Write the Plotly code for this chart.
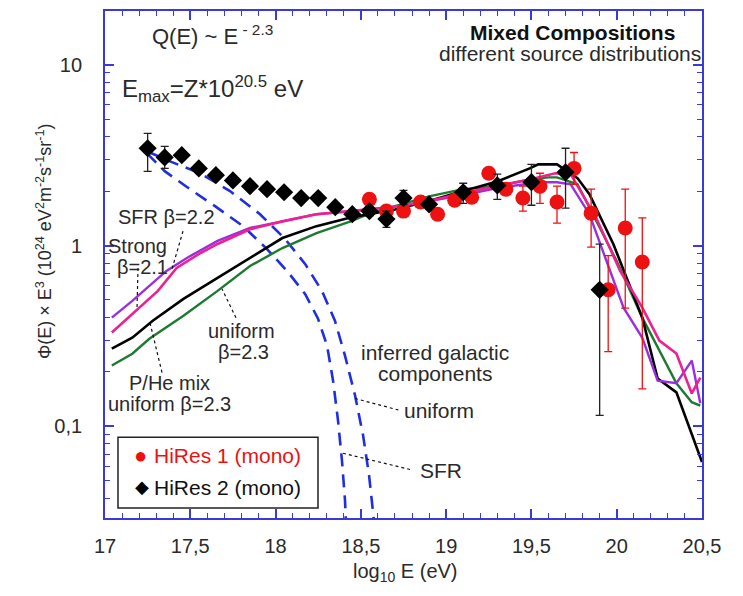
import plotly.graph_objects as go

# ---------------- data ----------------
# HiRes 1 (mono) - red circles
hr1_x = [18.55, 18.65, 18.75, 18.85, 18.95, 19.05, 19.15, 19.25, 19.35, 19.45, 19.55, 19.65, 19.75, 19.85, 19.95, 20.05, 20.15]
hr1_y = [1.80, 1.55, 1.55, 1.74, 1.49, 1.78, 1.85, 2.51, 2.05, 1.83, 2.13, 1.74, 2.67, 1.51, 0.569, 1.25, 0.811]
hr1_ep = [0.04, 0.04, 0.05, 0.05, 0.05, 0.06, 0.07, 0.09, 0.10, 0.30, 0.38, 0.39, 0.60, 0.54, 0.31, 0.80, 0.61]
hr1_em = [0.04, 0.04, 0.05, 0.05, 0.05, 0.06, 0.07, 0.09, 0.10, 0.28, 0.42, 0.41, 0.49, 0.53, 0.31, 0.80, 0.65]

# HiRes 2 (mono) - black diamonds
hr2_x = [17.25, 17.35, 17.45, 17.55, 17.65, 17.75, 17.85, 17.95, 18.05, 18.15, 18.25, 18.35, 18.45, 18.55, 18.65, 18.75, 18.9, 19.1, 19.3, 19.5, 19.7, 19.9]
hr2_y = [3.45, 3.07, 3.16, 2.67, 2.45, 2.29, 2.13, 2.05, 1.97, 1.83, 1.83, 1.63, 1.49, 1.55, 1.40, 1.83, 1.69, 1.97, 2.15, 2.24, 2.54, 0.569]
hr2_ep = [0.72, 0.46, 0.15, 0.10, 0.08, 0.07, 0.07, 0.07, 0.07, 0.07, 0.08, 0.08, 0.08, 0.09, 0.15, 0.19, 0.10, 0.24, 0.33, 0.57, 0.91, 0.45]
hr2_em = [0.88, 0.40, 0.15, 0.10, 0.08, 0.07, 0.07, 0.07, 0.07, 0.07, 0.08, 0.08, 0.08, 0.09, 0.14, 0.14, 0.10, 0.26, 0.35, 0.57, 0.93, 0.454]

# model curves
strong_x = [17.04, 17.16, 17.36, 17.48, 17.66, 17.85, 18.04, 18.24, 18.44, 18.7, 18.9, 19.1, 19.3, 19.49, 19.55, 19.65, 19.73, 19.84, 20.04, 20.15, 20.24, 20.35, 20.44, 20.49]
strong_y = [0.399, 0.494, 0.724, 0.854, 1.06, 1.25, 1.36, 1.49, 1.55, 1.64, 1.76, 1.90, 2.08, 2.21, 2.24, 2.24, 2.18, 1.49, 0.453, 0.309, 0.179, 0.173, 0.231, 0.134]

sfr_x = [17.04, 17.16, 17.31, 17.42, 17.56, 17.66, 17.85, 18.04, 18.24, 18.44, 18.7, 18.9, 19.1, 19.3, 19.49, 19.64, 19.73, 19.88, 20.02, 20.15, 20.25, 20.35, 20.44, 20.49]
sfr_y = [0.330, 0.420, 0.561, 0.751, 0.909, 1.02, 1.23, 1.36, 1.49, 1.55, 1.64, 1.76, 1.95, 2.13, 2.32, 2.51, 2.48, 1.42, 0.724, 0.453, 0.298, 0.253, 0.152, 0.186]

phe_x = [17.04, 17.16, 17.28, 17.46, 17.66, 17.85, 18.04, 18.24, 18.44, 18.7, 18.9, 19.1, 19.3, 19.49, 19.54, 19.65, 19.77, 19.84, 19.98, 20.15, 20.24, 20.35, 20.45, 20.5]
phe_y = [0.269, 0.309, 0.384, 0.507, 0.662, 0.854, 1.10, 1.28, 1.43, 1.58, 1.76, 2.00, 2.26, 2.67, 2.81, 2.81, 2.36, 1.92, 1.02, 0.399, 0.184, 0.154, 0.0859, 0.0634]

unif_x = [17.04, 17.16, 17.26, 17.46, 17.66, 17.85, 18.04, 18.24, 18.44, 18.51, 18.7, 18.9, 19.1, 19.3, 19.49, 19.6, 19.65, 19.77, 19.86, 20.0, 20.15, 20.24, 20.35, 20.44, 20.49]
unif_y = [0.217, 0.252, 0.305, 0.409, 0.561, 0.770, 0.968, 1.17, 1.36, 1.45, 1.65, 1.87, 2.05, 2.13, 2.32, 2.38, 2.38, 2.18, 1.49, 0.822, 0.399, 0.272, 0.173, 0.136, 0.130]

# inferred galactic components (blue dashed)
gal_sfr_x = [17.246, 17.352, 17.498, 17.645, 17.809, 17.950, 18.067, 18.173, 18.249, 18.302, 18.337, 18.366, 18.389, 18.407, 18.413]
gal_sfr_y = [3.23, 2.57, 2.05, 1.65, 1.28, 0.956, 0.724, 0.540, 0.394, 0.279, 0.179, 0.108, 0.065, 0.0391, 0.0285]
gal_uni_x = [17.246, 17.381, 17.557, 17.733, 17.909, 18.055, 18.173, 18.272, 18.348, 18.407, 18.466, 18.513, 18.548, 18.577, 18.589]
gal_uni_y = [3.32, 2.92, 2.51, 2.00, 1.49, 1.09, 0.791, 0.561, 0.384, 0.246, 0.148, 0.0892, 0.0537, 0.0323, 0.0235]

x_ticks = [17, 17.5, 18, 18.5, 19, 19.5, 20, 20.5]
x_ticklabels = ["17", "17,5", "18", "18,5", "19", "19,5", "20", "20,5"]
y_ticks = [0.1, 1, 10]
y_ticklabels = ["0,1", "1", "10"]
y_minor = [m * d for d in (0.01, 0.1, 1, 10) for m in range(2, 10)]

# ---------------- figure ----------------
FONT = "Liberation Sans, Arial, Helvetica, sans-serif"
BLUE_FRAME = "#3a3ad8"
TXT = "#2a2a2a"

fig = go.Figure()

fig.add_trace(go.Scatter(x=gal_sfr_x, y=gal_sfr_y, mode="lines",
                         line=dict(color="#1f2ee0", width=2.6, dash="13px,8px")))
fig.add_trace(go.Scatter(x=gal_uni_x, y=gal_uni_y, mode="lines",
                         line=dict(color="#1f2ee0", width=2.6, dash="13px,8px")))

fig.add_trace(go.Scatter(x=unif_x, y=unif_y, mode="lines", line=dict(color="#1e7a30", width=2.4)))
fig.add_trace(go.Scatter(x=phe_x, y=phe_y, mode="lines", line=dict(color="#000000", width=2.6)))
fig.add_trace(go.Scatter(x=strong_x, y=strong_y, mode="lines", line=dict(color="#9a2ee0", width=2.4)))
fig.add_trace(go.Scatter(x=sfr_x, y=sfr_y, mode="lines", line=dict(color="#f0208e", width=2.6)))

fig.add_trace(go.Scatter(
    x=hr1_x, y=hr1_y, mode="markers",
    marker=dict(symbol="circle", size=15, color="#ee1111"),
    error_y=dict(type="data", symmetric=False, array=hr1_ep, arrayminus=hr1_em,
                 color="#ee1111", thickness=1.3, width=4)))
fig.add_trace(go.Scatter(
    x=hr2_x, y=hr2_y, mode="markers",
    marker=dict(symbol="diamond", size=14, color="#000000"),
    error_y=dict(type="data", symmetric=False, array=hr2_ep, arrayminus=hr2_em,
                 color="#222222", thickness=1.3, width=4)))

# geometry helpers (plot area in pixels: x 105..702, y 9..518)
def px(x):
    return (x - 105) / 597.0

def py(y):
    return (518 - y) / 509.0

annotations = []

def txt(x, y, s, size=21, xanchor="left", color=TXT, yanchor="middle"):
    annotations.append(dict(x=px(x), y=py(y), xref="paper", yref="paper", text=s,
                            showarrow=False, xanchor=xanchor, yanchor=yanchor,
                            font=dict(family=FONT, size=size, color=color)))

txt(150, 49, "Q(E) ~ E<sup> - 2.3</sup>", size=22, yanchor="bottom")
txt(120, 106, "E<sub>max</sub>=Z*10<sup>20.5</sup> eV", size=24, yanchor="bottom")
txt(572, 31, "<b>Mixed Compositions</b>", size=21, xanchor="center", color="#111")
txt(570, 52, "different source distributions", size=21, xanchor="center")
txt(116, 216, "SFR β=2.2", size=20)
txt(106, 245, "Strong", size=20)
txt(115, 266, "β=2.1", size=20)
txt(206, 330, "uniform", size=20)
txt(216, 351, "β=2.3", size=20)
txt(127, 382, "P/He mix", size=20)
txt(106, 404, "uniform β=2.3", size=20)
txt(435, 352, "inferred galactic", size=21, xanchor="center")
txt(435, 373, "components", size=21, xanchor="center")
txt(402, 410, "uniform", size=21)
txt(418, 470, "SFR", size=21)

# legend
txt(140, 455, "●", size=22, xanchor="center", color="#ee1111")
txt(152, 455, "HiRes 1 (mono)", size=21, color="#ee1111")
txt(142, 487, "◆", size=18, xanchor="center", color="#000")
txt(152, 487, "HiRes 2 (mono)", size=21, color="#111")

# axis titles
annotations.append(dict(x=px(405), y=py(573), xref="paper", yref="paper",
                        text="log<sub>10</sub> E (eV)", showarrow=False,
                        xanchor="center", yanchor="middle",
                        font=dict(family=FONT, size=20, color=TXT)))
annotations.append(dict(x=px(44), y=py(240), xref="paper", yref="paper", textangle=-90,
                        xanchor="center", yanchor="middle",
                        text="Φ(E) × E<sup>3</sup> (10<sup>24</sup> eV<sup>2</sup>m<sup>-2</sup>s<sup>-1</sup>sr<sup>-1</sup>)",
                        showarrow=False, font=dict(family=FONT, size=18, color=TXT)))

shapes = []

def dotted(x0, y0, x1, y1):
    shapes.append(dict(type="line", xref="paper", yref="paper",
                       x0=px(x0), y0=py(y0), x1=px(x1), y1=py(y1),
                       line=dict(color="#111", width=1.2, dash="dot")))

dotted(183, 230, 172, 268)
dotted(138, 267, 137, 308)
dotted(236, 317, 222, 288)
dotted(162, 372, 150, 322)
dotted(355, 398, 400, 410)
dotted(343, 453, 413, 470)

shapes.append(dict(type="rect", xref="paper", yref="paper",
                   x0=px(118), y0=py(508), x1=px(318), y1=py(437),
                   line=dict(color="#222", width=1.5), fillcolor="rgba(0,0,0,0)"))

fig.update_layout(
    width=743, height=596,
    margin=dict(l=105, r=41, t=9, b=78),
    paper_bgcolor="white", plot_bgcolor="white",
    showlegend=False,
    annotations=annotations, shapes=shapes,
    font=dict(family=FONT, size=20, color=TXT),
)

fig.update_xaxes(
    range=[17, 20.5], tickmode="array", tickvals=x_ticks, ticktext=x_ticklabels,
    ticks="inside", ticklen=9, tickwidth=1.6, tickcolor=BLUE_FRAME,
    showline=True, linecolor=BLUE_FRAME, linewidth=1.8, mirror="allticks",
    showgrid=False, zeroline=False, ticklabelstandoff=9,
    tickfont=dict(family=FONT, size=20, color=TXT),
    minor=dict(ticks="inside", ticklen=5, tickwidth=1.3, tickcolor=BLUE_FRAME,
               tick0=17, dtick=0.1, showgrid=False),
)
fig.update_yaxes(
    type="log", range=[-1.507, 1.297], tickmode="array", tickvals=y_ticks, ticktext=y_ticklabels,
    ticks="inside", ticklen=9, tickwidth=1.6, tickcolor=BLUE_FRAME,
    showline=True, linecolor=BLUE_FRAME, linewidth=1.8, mirror="allticks",
    showgrid=False, zeroline=False, ticklabelstandoff=17,
    tickfont=dict(family=FONT, size=20, color=TXT),
    minor=dict(ticks="inside", ticklen=5, tickwidth=1.3, tickcolor=BLUE_FRAME,
               tickmode="array", tickvals=y_minor, showgrid=False),
)

fig.write_html("out.html")
